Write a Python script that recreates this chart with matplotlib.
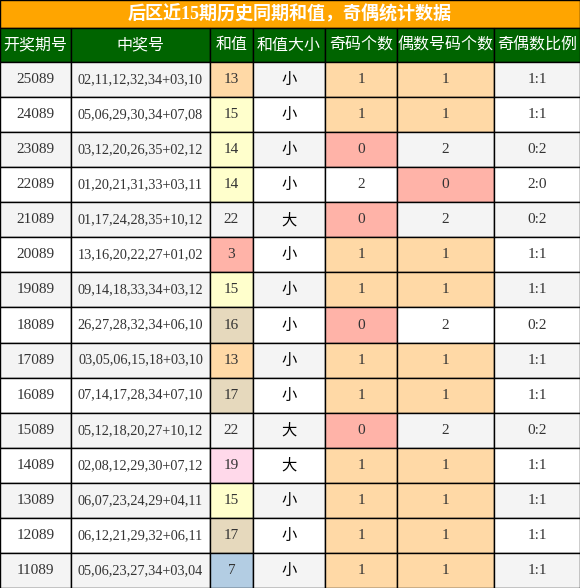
import matplotlib
matplotlib.use("Agg")
import matplotlib.pyplot as plt
from matplotlib.patches import Rectangle

title = "后区近15期历史同期和值，奇偶统计数据"
headers = ["开奖期号", "中奖号", "和值", "和值大小", "奇码个数", "偶数号码个数", "奇偶数比例"]
issues = ["25089", "24089", "23089", "22089", "21089", "20089", "19089", "18089",
          "17089", "16089", "15089", "14089", "13089", "12089", "11089"]
numbers = ["02,11,12,32,34+03,10", "05,06,29,30,34+07,08", "03,12,20,26,35+02,12",
           "01,20,21,31,33+03,11", "01,17,24,28,35+10,12", "13,16,20,22,27+01,02",
           "09,14,18,33,34+03,12", "26,27,28,32,34+06,10", "03,05,06,15,18+03,10",
           "07,14,17,28,34+07,10", "05,12,18,20,27+10,12", "02,08,12,29,30+07,12",
           "06,07,23,24,29+04,11", "06,12,21,29,32+06,11", "05,06,23,27,34+03,04"]
sums = [13, 15, 14, 14, 22, 3, 15, 16, 13, 17, 22, 19, 15, 17, 7]
sizes = ["小", "小", "小", "小", "大", "小", "小", "小", "小", "小", "大", "大", "小", "小", "小"]
odd_cnt = [1, 1, 0, 2, 0, 1, 1, 0, 1, 1, 0, 1, 1, 1, 1]
even_cnt = [1, 1, 2, 0, 2, 1, 1, 2, 1, 1, 2, 1, 1, 1, 1]
ratios = ["1:1", "1:1", "0:2", "2:0", "0:2", "1:1", "1:1", "0:2", "1:1", "1:1",
          "0:2", "1:1", "1:1", "1:1", "1:1"]

sum_colors = {13: "#FFD9A6", 15: "#FFFFCC", 14: "#FFFFCC", 3: "#FFB3A8",
              16: "#E6D9BD", 17: "#E6D9BD", 19: "#FFD9EA", 7: "#B3CDE3"}
cnt_colors = {1: "#FFD9A6", 0: "#FFB3A8"}

W, H = 580, 588
col_x = [0, 71, 210, 253, 325, 397, 494, 580]
title_h, head_h = 28, 34
row_h = (H - title_h - head_h) / len(issues)

fig = plt.figure(figsize=(W / 100, H / 100), dpi=100)
ax = fig.add_axes([0, 0, 1, 1])
ax.set_xlim(0, W)
ax.set_ylim(H, 0)
ax.axis("off")

cjk = ["Noto Sans CJK SC", "DejaVu Sans"]
serif = ["Liberation Serif", "Noto Sans CJK SC"]

def cell(x0, x1, y0, h, fc, text, color="#333333", family=serif, size=11, weight="normal"):
    ax.add_patch(Rectangle((x0, y0), x1 - x0, h, facecolor=fc, edgecolor="black", lw=1))
    ax.text((x0 + x1) / 2, y0 + h / 2, text, ha="center", va="center",
            color=color, family=family, fontsize=size, fontweight=weight)

cell(0, W, 0, title_h, "#FFA500", title, color="white", family=["Liberation Serif", "Noto Sans CJK SC"],
     size=13, weight="bold")
for j, hd in enumerate(headers):
    cell(col_x[j], col_x[j + 1], title_h, head_h, "#006400", hd, color="white", family=cjk, size=11.5)

for i in range(len(issues)):
    y = title_h + head_h + i * row_h
    bg = "#F4F4F4" if i % 2 == 0 else "white"
    vals = [issues[i], numbers[i], str(sums[i]), sizes[i], str(odd_cnt[i]), str(even_cnt[i]), ratios[i]]
    fcs = [bg, bg, sum_colors.get(sums[i], bg), bg,
           cnt_colors.get(odd_cnt[i], bg), cnt_colors.get(even_cnt[i], bg), bg]
    for j in range(7):
        fam = cjk if j == 3 else serif
        cell(col_x[j], col_x[j + 1], y, row_h, fcs[j], vals[j],
             color="black" if j == 3 else "#333333", family=fam,
             size=10.3 if j == 1 else 11)

fig.savefig("out.png", dpi=100)
